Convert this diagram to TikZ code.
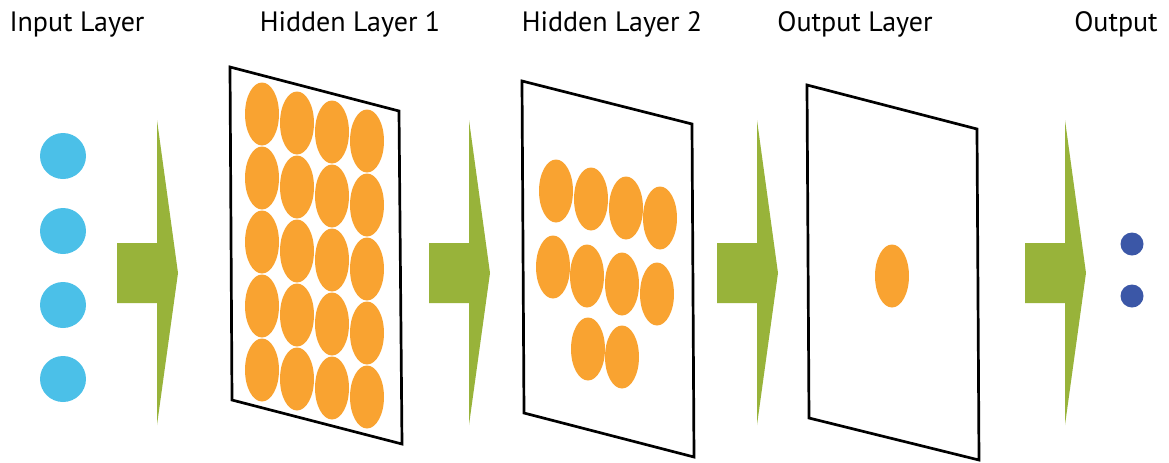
\documentclass[tikz,border=0pt]{standalone}
\usepackage{fontspec}
\setmainfont{PT Sans}
\usepackage{tikz}
\usetikzlibrary{shapes.geometric}
\definecolor{inblue}{HTML}{4BC0E8}
\definecolor{unitc}{HTML}{F9A331}
\definecolor{flow}{HTML}{98B33A}
\definecolor{outblue}{HTML}{3B57A7}
\tikzset{
  title/.style={font=\fontsize{14}{17}\selectfont,anchor=base,inner sep=0pt},
  neuron/.style={circle,fill=#1,draw=none,inner sep=0pt,minimum size=23pt},
  neuron/.default=inblue,
  cell/.style={ellipse,fill=unitc,draw=none,inner sep=0pt,minimum width=17pt,
    minimum height=31.5pt},
  sheet/.style={draw=black,line width=1.35pt,line join=miter},
  flowarrow/.style={fill=flow,draw=none},
}

\begin{document}
\begin{tikzpicture}[x=0.5pt,y=-0.5pt]
  \useasboundingbox (0,0) rectangle (1169,462);
  % titles
  \foreach \x/\name/\txt in {77/tin/Input Layer,350/thA/Hidden Layer 1,612/thB/Hidden Layer 2,
                             855/tout/Output Layer,1116/tres/Output}
    \node[title] (\name) at (\x,31) {\txt};
  % input units
  \foreach \y [count=\i] in {156,231,305,379}
    \node[neuron] (in\i) at (63,\y) {};
  % flow arrows
  \foreach \x in {117,429,717,1025}
    \fill[flowarrow] (\x,243) -- ++(40,0) -- ++(0,-123) -- ++(21,153) -- ++(-21,152)
      -- ++(0,-122) -- ++(-40,0) -- cycle;
  % layer sheets
  \draw[sheet] (230,67) -- (399,111) -- (402,444) -- (232,400) -- cycle;
  \draw[sheet] (522,81) -- (692,124) -- (694,457) -- (524,413) -- cycle;
  \draw[sheet] (807,85) -- (977,129) -- (979,460) -- (809,418) -- cycle;
  % hidden layer 1, 4 x 5
  \foreach \c in {0,...,3}
    \foreach \r in {0,...,4}
      \node[cell] (hA-\c-\r) at ({262+35*\c},{114+64*\r+9*\c}) {};
  % hidden layer 2
  \foreach \x/\y [count=\k] in {556/191,591/199,626/208,660/218,
                                553/267,587/276,622/284,657/294,588/349,622/357}
    \node[cell] (hB-\k) at (\x,\y) {};
  % output layer
  \node[cell] (o1) at (892,276) {};
  % result
  \node[neuron=outblue,minimum size=11.5pt] (res1) at (1132,244) {};
  \node[neuron=outblue,minimum size=11.5pt] (res2) at (1132,296) {};
\end{tikzpicture}
\end{document}
